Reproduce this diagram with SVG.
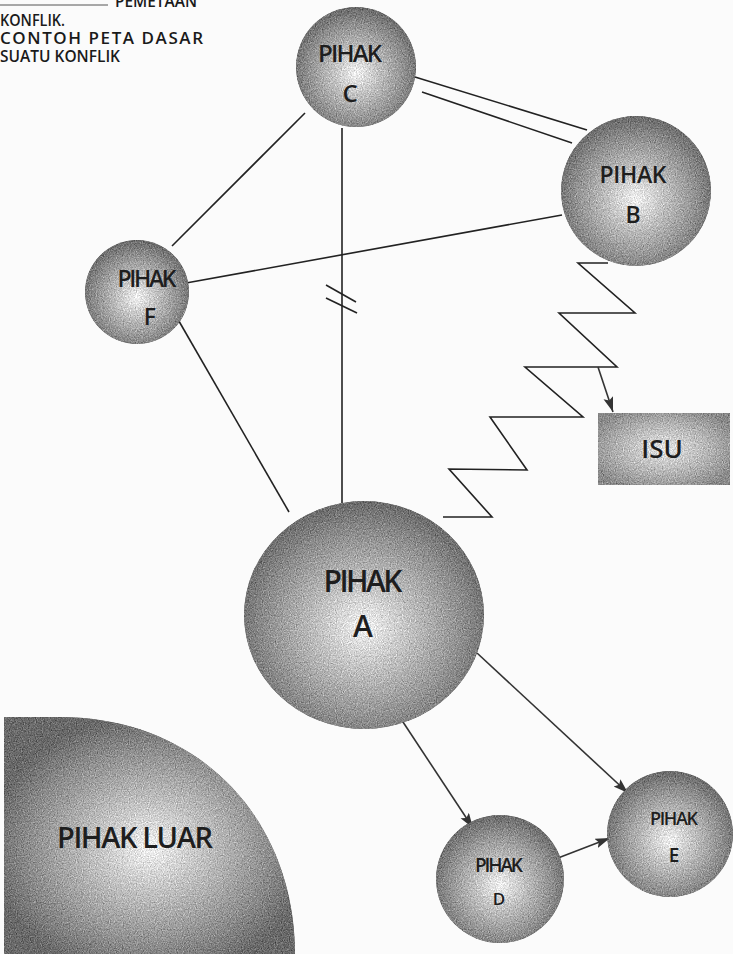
<svg xmlns="http://www.w3.org/2000/svg" width="733" height="954" viewBox="0 0 733 954">
<defs>
<radialGradient id="ball" cx="50%" cy="55%" r="55%">
<stop offset="0" stop-color="#f2f2f2"/>
<stop offset="0.3" stop-color="#c8c8c8"/>
<stop offset="0.75" stop-color="#8e8e8e"/>
<stop offset="1" stop-color="#6a6a6a"/>
</radialGradient>
<radialGradient id="box" cx="50%" cy="50%" r="60%">
<stop offset="0" stop-color="#e6e6e6"/>
<stop offset="0.6" stop-color="#b2b2b2"/>
<stop offset="1" stop-color="#8a8a8a"/>
</radialGradient>
<filter id="grain" x="0" y="0" width="100%" height="100%" color-interpolation-filters="sRGB">
<feTurbulence type="fractalNoise" baseFrequency="0.85" numOctaves="2" seed="5" result="n"/>
<feColorMatrix in="n" type="matrix" values="0.33 0.33 0.33 0 0  0.33 0.33 0.33 0 0  0.33 0.33 0.33 0 0  0 0 0 0 1" result="g"/>
<feComposite in="SourceGraphic" in2="g" operator="arithmetic" k1="0" k2="1" k3="0.9" k4="-0.45" result="m"/>
<feComposite in="m" in2="SourceGraphic" operator="in"/>
</filter>
<marker id="arr" markerUnits="userSpaceOnUse" markerWidth="16" markerHeight="12" refX="15" refY="5" orient="auto">
<path d="M0,0 L15,5 L0,10 L3,5 z" fill="#333"/>
</marker>
</defs>
<style>
.ball{fill:url(#ball);filter:url(#grain)}
.lbl{font-family:"Open Sans","Liberation Sans",sans-serif;font-weight:600;fill:#1e1e1e;text-anchor:middle}
.cap{font-family:"Open Sans","Liberation Sans",sans-serif;font-weight:600;fill:#1a1a1a;font-size:17px}
.ln{stroke:#222;stroke-width:1.6;fill:none}
.ar{stroke:#333;stroke-width:1.6;fill:none;marker-end:url(#arr)}
</style>
<rect width="733" height="954" fill="#fbfbfb"/>

<g id="caption">
<line x1="0" y1="5" x2="108" y2="5" stroke="#555" stroke-width="1"/>
<text class="cap" x="115" y="7" textLength="82" lengthAdjust="spacingAndGlyphs">PEMETAAN</text>
<text class="cap" x="0" y="26" textLength="65" lengthAdjust="spacingAndGlyphs">KONFLIK.</text>
<text class="cap" x="0" y="44" textLength="203" lengthAdjust="spacing">CONTOH PETA DASAR</text>
<text class="cap" x="0" y="62" textLength="120" lengthAdjust="spacingAndGlyphs">SUATU KONFLIK</text>
</g>

<g id="connectors">
<line class="ln" x1="415" y1="77" x2="587" y2="130"/>
<line class="ln" x1="422" y1="92" x2="572" y2="143"/>
<line class="ln" x1="305" y1="113" x2="172" y2="246"/>
<line class="ln" x1="186" y1="283" x2="562" y2="215"/>
<line class="ln" x1="342" y1="128" x2="342" y2="503"/>
<line class="ln" x1="326" y1="285" x2="356" y2="302"/>
<line class="ln" x1="326" y1="298" x2="357" y2="313"/>
<line class="ln" x1="176" y1="316" x2="289" y2="512"/>
<polyline class="ln" points="608,263 578,263 635,313 559,313 617,367 525,367 583,417 490,417 527,470 449,469 492,517 443,517"/>
<line class="ar" x1="598" y1="367" x2="613" y2="412"/>
<line class="ar" x1="403" y1="722" x2="473" y2="828"/>
<line class="ar" x1="477" y1="653" x2="628" y2="793"/>
<line class="ar" x1="558" y1="858" x2="610" y2="838"/>
</g>

<g id="node-c">
<circle class="ball" cx="356" cy="67" r="60"/>
<text class="lbl" x="350" y="62" font-size="24" textLength="64">PIHAK</text>
<text class="lbl" x="350" y="102" font-size="24">C</text>
</g>

<g id="node-b">
<circle class="ball" cx="636" cy="191" r="75"/>
<text class="lbl" x="633" y="183" font-size="23" textLength="67">PIHAK</text>
<text class="lbl" x="633" y="223" font-size="23">B</text>
</g>

<g id="node-f">
<circle class="ball" cx="137" cy="292" r="52"/>
<text class="lbl" x="147" y="287" font-size="23" textLength="59">PIHAK</text>
<text class="lbl" x="150" y="325" font-size="23">F</text>
</g>

<g id="node-a">
<ellipse class="ball" cx="364" cy="615" rx="120" ry="114"/>
<text class="lbl" x="363" y="592" font-size="30" textLength="79">PIHAK</text>
<text class="lbl" x="363" y="637" font-size="30">A</text>
</g>

<g id="node-d">
<circle class="ball" cx="500" cy="879" r="64"/>
<text class="lbl" x="499" y="872" font-size="19" font-weight="500" textLength="48">PIHAK</text>
<text class="lbl" x="499" y="905" font-size="17" font-weight="500">D</text>
</g>

<g id="node-e">
<circle class="ball" cx="670" cy="834" r="63"/>
<text class="lbl" x="674" y="825" font-size="18" font-weight="500" textLength="48">PIHAK</text>
<text class="lbl" x="674" y="862" font-size="19" font-weight="500">E</text>
</g>

<g id="node-isu">
<rect x="598" y="413" width="132" height="72" fill="url(#box)" filter="url(#grain)"/>
<text class="lbl" x="662" y="458" font-size="26">ISU</text>
</g>

<g id="node-pihak-luar">
<path class="ball" d="M4,717 L60,717 C200,717 295,820 295,954 L4,954 Z"/>
<text class="lbl" x="135" y="848" font-size="29" font-weight="400" textLength="156">PIHAK LUAR</text>
</g>
</svg>
